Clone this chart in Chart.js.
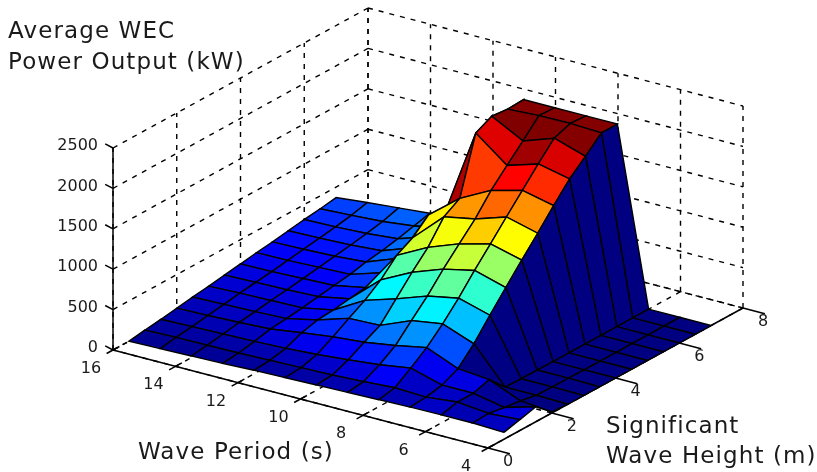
<!DOCTYPE html>
<html>
<head>
<meta charset="utf-8">
<title>Average WEC Power Output</title>
<style>
    html, body { margin: 0; padding: 0; background: #fff; }
    #wrap { width: 817px; height: 472px; }
    #grafica { filter: blur(0.45px); }
</style>
<script src="https://cdn.jsdelivr.net/npm/chart.js@4"></script>
</head>
<body>
<div id="wrap"><canvas id="grafica" width="817" height="472"></canvas></div>
<script>
// wave period (s) and significant wave height (m) of the surface grid
const periods = [4, 5, 6, 7, 8, 9, 10, 11, 12, 13, 14, 15, 16];
const heights = [0.5, 1, 1.5, 2, 2.5, 3, 3.5, 4, 4.5, 5, 5.5, 6, 6.5, 7];

// power (kW) per wave height, one value per period
const powerH05 = [85, 100, 100, 95, 85, 75, 65, 55, 45, 30, 20, 10, 0];
const powerH10 = [135, 110, 150, 110, 125, 100, 80, 70, 60, 50, 45, 40, 30];
const powerH15 = [185, 75, 150, 150, 260, 200, 160, 125, 100, 85, 75, 65, 55];
const powerH20 = [15, 50, 210, 245, 405, 330, 270, 235, 185, 130, 110, 95, 85];
const powerH25 = [0, 10, 10, 445, 590, 530, 370, 355, 235, 150, 135, 125, 115];
const powerH30 = [0, 5, 5, 690, 800, 725, 590, 470, 250, 175, 165, 155, 140];
const powerH35 = [0, 5, 5, 925, 1035, 950, 810, 615, 280, 205, 190, 180, 170];
const powerH40 = [0, 0, 0, 1157, 1255, 1155, 1010, 810, 310, 235, 220, 205, 200];
const powerH45 = [0, 0, 0, 1380, 1480, 1355, 1280, 920, 385, 265, 250, 235, 230];
const powerH50 = [0, 0, 0, 1613, 1700, 1600, 1400, 1095, 455, 310, 280, 265, 255];
const powerH55 = [0, 0, 0, 1835, 1920, 1800, 2100, 1000, 480, 340, 310, 295, 285];
const powerH60 = [0, 0, 0, 2007, 2130, 1995, 2200, 900, 505, 380, 345, 325, 315];
const powerH65 = [0, 0, 0, 2190, 2205, 2200, 2180, 850, 520, 430, 385, 360, 340];
const powerH70 = [0, 0, 0, 2190, 2190, 2190, 2190, 800, 530, 480, 445, 410, 370];
const power = [powerH05, powerH10, powerH15, powerH20, powerH25, powerH30, powerH35,
    powerH40, powerH45, powerH50, powerH55, powerH60, powerH65, powerH70];

// axis ticks
const periodTicks = [4, 6, 8, 10, 12, 14, 16];
const heightTicks = [0, 2, 4, 6, 8];
const powerTicks = [0, 500, 1000, 1500, 2000, 2500];
const colorMax = 2200;

// box projection, same view as the 3d axes of the original
function project(p, h, z) {
    return {
        x: 113 + (16 - p) * 31.25 + h * 31.875,
        y: 350 + (16 - p) * 8.167 - h * 17.5 - z * 0.0808
    };
}

function jet(v) {
    const t = Math.max(0, Math.min(1, v));
    const c = x => Math.round(255 * Math.max(0, Math.min(1, 1.5 - Math.abs(4 * t - x))));
    return `rgb(${c(3)}, ${c(2)}, ${c(1)})`;
}

function lineSet(points, width, dash) {
    return {
        data: points, showLine: true, fill: false, borderColor: '#000', borderWidth: width,
        borderDash: dash || [], pointRadius: 0, tension: 0
    };
}

const datasets = [];

// nearest facet first: chart.js paints the first dataset last
for (let i = 0; i < periods.length - 1; i++) {
    for (let j = 0; j < heights.length - 1; j++) {
        const color = jet(power[j + 1][i] / colorMax);
        datasets.push({
            data: [
                project(periods[i], heights[j], power[j][i]),
                project(periods[i + 1], heights[j], power[j][i + 1]),
                project(periods[i + 1], heights[j + 1], power[j + 1][i + 1]),
                project(periods[i], heights[j + 1], power[j + 1][i]),
                project(periods[i], heights[j], power[j][i])
            ],
            showLine: true, fill: 'shape', backgroundColor: color, borderColor: '#000',
            borderWidth: 1.4, pointRadius: 0, tension: 0
        });
    }
}

// solid axes and their ticks
datasets.push(lineSet([project(4, 0, 0), project(16, 0, 0)], 1.5));
datasets.push(lineSet([project(4, 0, 0), project(4, 8, 0)], 1.5));
datasets.push(lineSet([project(16, 0, 0), project(16, 0, 2500)], 1.5));
periodTicks.forEach(p => {
    datasets.push(lineSet([project(p, -0.2, 0), project(p, 0, 0)], 1.5));
    datasets.push(lineSet([project(p, 0, 0), project(p, 0.2, 0)], 1.5));
});
heightTicks.forEach(h => {
    datasets.push(lineSet([project(4, h, 0), project(3.3, h, 0)], 1.5));
});
powerTicks.forEach(z => {
    datasets.push(lineSet([project(16, 0, z), project(16.25, 0, z + 25)], 1.5));
});

// dashed grid on the floor and the two back walls
const dash = [5, 6];
periodTicks.forEach(p => {
    datasets.push(lineSet([project(p, 0, 0), project(p, 8, 0)], 1.4, dash));
    datasets.push(lineSet([project(p, 8, 0), project(p, 8, 2500)], 1.4, dash));
});
heightTicks.forEach(h => {
    datasets.push(lineSet([project(4, h, 0), project(16, h, 0)], 1.4, dash));
    datasets.push(lineSet([project(16, h, 0), project(16, h, 2500)], 1.4, dash));
});
powerTicks.forEach(z => {
    datasets.push(lineSet([project(16, 0, z), project(16, 8, z)], 1.4, dash));
    datasets.push(lineSet([project(16, 8, z), project(4, 8, z)], 1.4, dash));
});

// labels of the 3d axes follow the same scales as the marks
const axisText = {
    id: 'axisText',
    afterDraw(chart) {
        const { ctx, scales } = chart;
        const put = (text, pos, dx, dy, align, font) => {
            ctx.font = font;
            ctx.textAlign = align;
            ctx.fillText(text, scales.x.getPixelForValue(pos.x) + dx, scales.y.getPixelForValue(pos.y) + dy);
        };
        const tickFont = '16px "DejaVu Sans"';
        ctx.save();
        ctx.fillStyle = '#1a1a1a';
        ctx.textBaseline = 'middle';
        periodTicks.forEach(p => put(String(p), project(p, 0, 0), -22, 19, 'center', tickFont));
        heightTicks.forEach(h => put(String(h), project(4, h, 0), 20, 14, 'center', tickFont));
        powerTicks.forEach(z => put(String(z), project(16, 0, z), -15, -2, 'right', tickFont));
        ctx.textAlign = 'left';
        ctx.font = '23px "DejaVu Sans"';
        ctx.letterSpacing = '1.1px';
        ctx.fillText('Average WEC', 8, 32);
        ctx.fillText('Power Output (kW)', 8, 63);
        ctx.fillText('Significant', 606, 427);
        ctx.fillText('Wave Height (m)', 606, 457);
        ctx.fillText('Wave Period (s)', 138, 453);
        ctx.restore();
    }
};

new Chart(document.getElementById('grafica').getContext('2d'), {
    type: 'scatter',
    data: { datasets: datasets },
    plugins: [axisText],
    options: {
        responsive: false,
        animation: false,
        layout: { padding: 0 },
        plugins: { legend: { display: false }, tooltip: { enabled: false }, title: { display: false } },
        scales: {
            x: { type: 'linear', min: 0, max: 817, display: false },
            y: { type: 'linear', min: 0, max: 472, reverse: true, display: false }
        }
    }
});
</script>
</body>
</html>
